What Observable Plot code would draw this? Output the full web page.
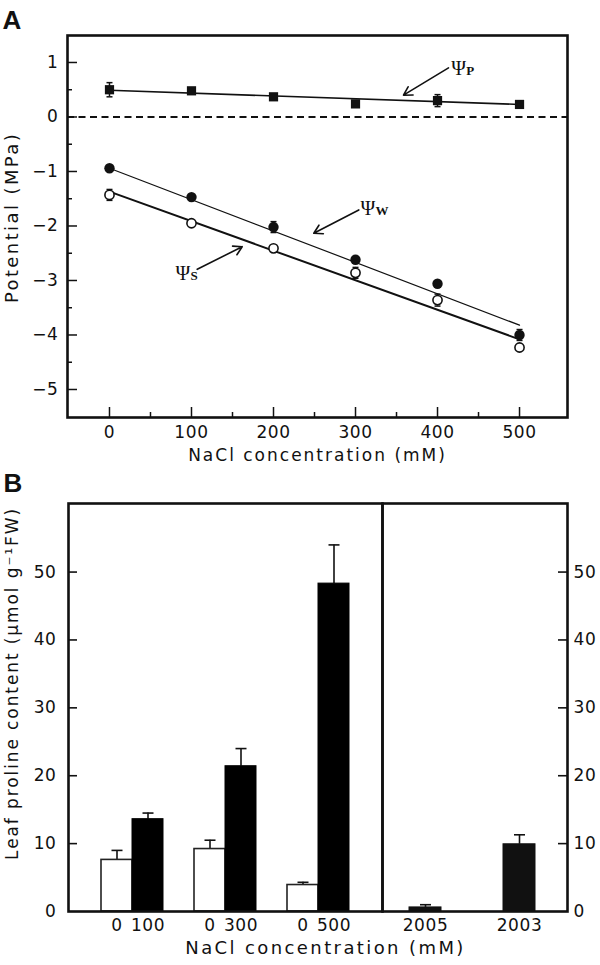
<!DOCTYPE html>
<html><head><meta charset="utf-8">
<script src="https://cdn.jsdelivr.net/npm/d3@7"></script>
<script src="https://cdn.jsdelivr.net/npm/@observablehq/plot@0.6"></script>
<style>
body{margin:0;background:#fff;}
#wrap{position:relative;width:600px;height:965px;}
#wrap svg{position:absolute;left:0;}
</style></head><body><div id="wrap"></div>
<script>
// ---------- Panel A data ----------
const nacl = [0, 100, 200, 300, 400, 500];
const psiP = [0.50, 0.48, 0.37, 0.24, 0.30, 0.23];
const psiPErr = [0.13, 0.02, 0.02, 0.02, 0.11, 0.02];
const psiW = [-0.94, -1.47, -2.02, -2.62, -3.06, -4.00];
const psiWErr = [0.02, 0.02, 0.10, 0.06, 0.02, 0.10];
const psiS = [-1.43, -1.95, -2.41, -2.86, -3.36, -4.23];
const psiSErr = [0.10, 0.02, 0.02, 0.10, 0.11, 0.02];
const fitX = [0, 500];
const fitP = [0.49, 0.23];
const fitW = [-0.94, -3.82];
const fitS = [-1.37, -4.08];
const xTicksA = [0, 100, 200, 300, 400, 500];
const xMinorA = [50, 150, 250, 350, 450];
const yTicksA = [1, 0, -1, -2, -3, -4, -5];
const yMinorA = [0.5, -0.5, -1.5, -2.5, -3.5, -4.5];
const labelSym = ["Ψ", "Ψ", "Ψ"];
const labelSub = ["P", "W", "S"];
const labelX = [416.7, 306.1, 80.5];
const labelY = [0.771, -1.80, -2.99];
const arrowX1 = [413.4, 304, 107];
const arrowY1 = [0.90, -1.706, -2.795];
const arrowX2 = [358.5, 249.1, 161.8];
const arrowY2 = [0.40, -2.134, -2.38];
const titleAx = "NaCl concentration (mM)";
const titleAy = "Potential (MPa)";

// ---------- Panel B data ----------
const saltGroups = ["100", "300", "500"];
const controlMean = [7.6, 9.2, 3.9];
const controlErr = [1.4, 1.3, 0.4];
const saltMean = [13.6, 21.4, 48.3];
const saltErr = [0.9, 2.6, 5.7];
const lineNames = ["2005", "2003"];
const lineMean = [0.6, 9.9];
const lineErr = [0.4, 1.4];
const yTicksB = [0, 10, 20, 30, 40, 50];
const titleBx = "NaCl concentration (mM)";
const titleBy = "Leaf proline content (μmol g⁻¹FW)";

const W = 600;
const ink = "#111";
const capSymbol = {draw(ctx, size) { const r = Math.sqrt(size / Math.PI); ctx.moveTo(-r, 0); ctx.lineTo(r, 0); }};
const baseStyle = {fontFamily: "DejaVu Sans", fontSize: "17px", color: ink, background: "transparent", overflow: "visible", letterSpacing: "0.6px"};
const intFormat = d => (d < 0 ? "\u2212" : "") + Math.abs(d);

function spacing(svg, texts, px) {
  d3.select(svg).selectAll("text").filter(function() { return texts.includes(this.textContent); }).attr("letter-spacing", px);
}

// ---------- Panel A ----------
const rowsA = [];
nacl.forEach((x, i) => {
  rowsA.push({s: "P", x, y: psiP[i], e: psiPErr[i]});
  rowsA.push({s: "W", x, y: psiW[i], e: psiWErr[i]});
  rowsA.push({s: "S", x, y: psiS[i], e: psiSErr[i]});
});
const fitRows = s => fitX.map((x, i) => ({x, y: (s === "P" ? fitP : s === "W" ? fitW : fitS)[i]}));
const labels = labelSym.map((sym, i) => ({sym, sub: labelSub[i], x: labelX[i], y: labelY[i]}));
const arrows = arrowX1.map((x1, i) => ({x1, y1: arrowY1[i], x2: arrowX2[i], y2: arrowY2[i]}));

const A = (() => {
  const mL = 67, mR = 33, mT = 35, mB = 58, H = 475;
  const pw = W - mL - mR, ph = H - mT - mB;
  const svg = Plot.plot({
    width: W, height: H, marginLeft: mL, marginRight: mR, marginTop: mT, marginBottom: mB,
    x: {domain: [-51.2, 558.5]},
    y: {domain: [-5.514, 1.495]},
    style: baseStyle,
    marks: [
      Plot.ruleY([0], {stroke: ink, strokeWidth: 2, strokeDasharray: "7,4.5"}),
      Plot.line(fitRows("P"), {x: "x", y: "y", stroke: ink, strokeWidth: 1.6}),
      Plot.line(fitRows("W"), {x: "x", y: "y", stroke: ink, strokeWidth: 1.2}),
      Plot.line(fitRows("S"), {x: "x", y: "y", stroke: ink, strokeWidth: 2}),
      Plot.ruleX(rowsA, {x: "x", y1: d => d.y - d.e, y2: d => d.y + d.e, stroke: ink, strokeWidth: 1.5}),
      Plot.dot(rowsA, {x: "x", y: d => d.y + d.e, symbol: capSymbol, r: 3, fill: "none", stroke: ink, strokeWidth: 1.5}),
      Plot.dot(rowsA, {x: "x", y: d => d.y - d.e, symbol: capSymbol, r: 3, fill: "none", stroke: ink, strokeWidth: 1.5}),
      Plot.dot(rowsA.filter(d => d.s === "P"), {x: "x", y: "y", symbol: "square", r: 5.2, fill: ink, stroke: "none"}),
      Plot.dot(rowsA.filter(d => d.s === "W"), {x: "x", y: "y", symbol: "circle", r: 5.2, fill: ink, stroke: "none"}),
      Plot.dot(rowsA.filter(d => d.s === "S"), {x: "x", y: "y", symbol: "circle", r: 4.6, fill: "white", stroke: ink, strokeWidth: 1.6}),
      Plot.arrow(arrows, {x1: "x1", y1: "y1", x2: "x2", y2: "y2", stroke: ink, strokeWidth: 1.6, headLength: 9}),
      Plot.text(labels, {x: "x", y: "y", text: "sym", textAnchor: "start", lineAnchor: "bottom", fontFamily: "Liberation Serif", fontSize: 20, fill: ink}),
      Plot.text(labels, {x: "x", y: "y", text: "sub", dx: 15, textAnchor: "start", lineAnchor: "bottom", fontFamily: "Liberation Serif", fontWeight: "bold", fontSize: 13, fill: ink}),
      Plot.ruleX(xTicksA, {x: d => d, insetTop: ph - 10, stroke: ink, strokeWidth: 1.5}),
      Plot.ruleX(xMinorA, {x: d => d, insetTop: ph - 5, stroke: ink, strokeWidth: 1.5}),
      Plot.ruleY(yTicksA, {y: d => d, insetRight: pw - 10, stroke: ink, strokeWidth: 1.5}),
      Plot.ruleY(yMinorA, {y: d => d, insetRight: pw - 5, stroke: ink, strokeWidth: 1.5}),
      Plot.frame({stroke: ink, strokeWidth: 2.6}),
      Plot.axisX({ticks: xTicksA, tickSize: 0, tickPadding: 8, label: null}),
      Plot.axisY({ticks: yTicksA, tickFormat: intFormat, tickSize: 0, tickPadding: 9, label: null}),
      Plot.text([titleAx], {text: d => d, frameAnchor: "bottom", textAnchor: "middle", lineAnchor: "top", dy: 31, fontSize: 17, fill: ink}),
      Plot.text([titleAy], {text: d => d, frameAnchor: "left", textAnchor: "middle", rotate: -90, dx: -55, dy: -9, fontSize: 18, fill: ink}),
      Plot.text(["A"], {text: d => d, frameAnchor: "top-left", textAnchor: "start", lineAnchor: "top", dx: -65, dy: -25, fontFamily: "Liberation Sans", fontWeight: "bold", fontSize: 26, fill: ink})
    ]
  });
  spacing(svg, [titleAx], "2px");
  spacing(svg, [titleAy], "2.4px");
  spacing(svg, labelSym.concat(labelSub), "0px");
  svg.style.top = "0px";
  return svg;
})();

// ---------- Panel B ----------
const slots = saltGroups.flatMap((g, i) => [`gap${i}`, `c${g}`, `s${g}`]).concat(["gapEnd"]);
const rowsB = saltGroups.flatMap((g, i) => [
  {key: `c${g}`, label: "0", kind: "control", v: controlMean[i], e: controlErr[i]},
  {key: `s${g}`, label: g, kind: "salt", v: saltMean[i], e: saltErr[i]}
]);
const tickLabel = new Map(rowsB.map(d => [d.key, d.label]));
const rowsLines = lineNames.map((n, i) => ({key: n, v: lineMean[i], e: lineErr[i]}));

const BT = 475, BH = 490, bmT = 28, bmB = 54;
const BL = (() => {
  const mL = 68, mR = 600 - 382;
  const pw = W - mL - mR, ph = BH - bmT - bmB;
  const svg = Plot.plot({
    width: W, height: BH, marginLeft: mL, marginRight: mR, marginTop: bmT, marginBottom: bmB,
    x: {type: "band", domain: slots, paddingInner: 0, paddingOuter: 0},
    y: {domain: [0, 60.1]},
    style: baseStyle,
    marks: [
      Plot.ruleX(rowsB, {x: "key", y1: "v", y2: d => d.v + d.e, stroke: ink, strokeWidth: 1.6}),
      Plot.dot(rowsB, {x: "key", y: d => d.v + d.e, symbol: capSymbol, r: 5.5, fill: "none", stroke: ink, strokeWidth: 1.6}),
      Plot.barY(rowsB.filter(d => d.kind === "control"), {x: "key", y: "v", fill: "white", stroke: "#222", strokeWidth: 1.6}),
      Plot.barY(rowsB.filter(d => d.kind === "salt"), {x: "key", y: "v", fill: "#000", stroke: "#000", strokeWidth: 1}),
      Plot.ruleY(yTicksB.slice(1), {y: d => d, insetRight: pw - 9, stroke: ink, strokeWidth: 1.6}),
      Plot.frame({stroke: ink, strokeWidth: 2.6}),
      Plot.axisX({ticks: rowsB.map(d => d.key), tickFormat: k => tickLabel.get(k), tickSize: 0, tickPadding: 7, label: null}),
      Plot.axisY({ticks: yTicksB, tickSize: 0, tickPadding: 12, label: null}),
      Plot.text([titleBx], {text: d => d, frameAnchor: "bottom-left", textAnchor: "middle", lineAnchor: "top", dx: 257, dy: 30, fontSize: 18, fill: ink}),
      Plot.text([titleBy], {text: d => d, frameAnchor: "left", textAnchor: "middle", rotate: -90, dx: -56, dy: -24, fontSize: 17, fill: ink}),
      Plot.text(["B"], {text: d => d, frameAnchor: "top-left", textAnchor: "start", lineAnchor: "top", dx: -65, dy: -30, fontFamily: "Liberation Sans", fontWeight: "bold", fontSize: 26, fill: ink})
    ]
  });
  spacing(svg, [titleBx], "2.4px");
  spacing(svg, [titleBy], "1.9px");
  svg.style.top = BT + "px";
  return svg;
})();

const BR = (() => {
  const mL = 382, mR = 33;
  const pw = W - mL - mR;
  const svg = Plot.plot({
    width: W, height: BH, marginLeft: mL, marginRight: mR, marginTop: bmT, marginBottom: bmB,
    x: {type: "band", domain: lineNames, paddingInner: 0.655, paddingOuter: 0.308, align: 0.4545},
    y: {domain: [0, 60.1]},
    style: baseStyle,
    marks: [
      Plot.ruleX(rowsLines, {x: "key", y1: "v", y2: d => d.v + d.e, stroke: ink, strokeWidth: 1.6}),
      Plot.dot(rowsLines, {x: "key", y: d => d.v + d.e, symbol: capSymbol, r: 5.5, fill: "none", stroke: ink, strokeWidth: 1.6}),
      Plot.barY(rowsLines, {x: "key", y: "v", fill: "#111", stroke: "#111", strokeWidth: 1}),
      Plot.ruleY(yTicksB.slice(1), {y: d => d, insetLeft: pw - 9, stroke: ink, strokeWidth: 1.6}),
      Plot.frame({stroke: ink, strokeWidth: 2.6}),
      Plot.axisX({ticks: lineNames, tickSize: 0, tickPadding: 7, label: null}),
      Plot.axisY({anchor: "right", ticks: yTicksB, tickSize: 0, tickPadding: 6, label: null})
    ]
  });
  svg.style.top = BT + "px";
  return svg;
})();

const wrap = document.getElementById("wrap");
wrap.append(A, BL, BR);
</script>
</body></html>
